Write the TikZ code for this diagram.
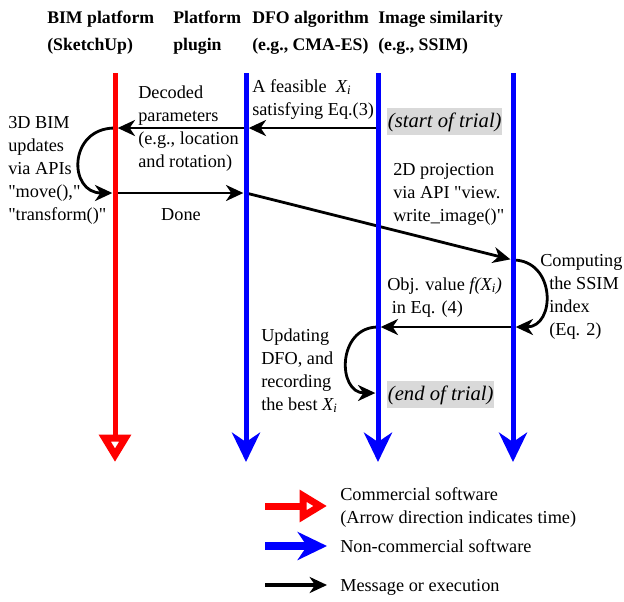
\documentclass[tikz,border=0pt]{standalone}
\usepackage{fontspec}
\setmainfont{Liberation Serif}
\usetikzlibrary{arrows.meta}

\tikzset{
  commercial/.style={draw=red, line width=3.75pt, -{Triangle[open, length=20.5pt, width=23pt, line width=6pt]}},
  noncommercial/.style={draw=blue, line width=3.75pt, -{Stealth[length=22pt, width=21pt, inset=7pt]}},
  msg/.style={draw=black, line width=2.1pt, -{Stealth[length=13pt, width=12pt, inset=4pt]}, shorten >=2pt},
  lbl/.style={anchor=base west, inner sep=0pt, align=left, font=\fontsize{13.7}{17.25}\selectfont},
  ttl/.style={anchor=base west, inner sep=0pt, align=left, font=\fontsize{13.3}{20.25}\selectfont\bfseries},
  trial/.style={anchor=base west, fill=black!15, inner xsep=0.5pt, inner ysep=3pt, font=\fontsize{15.5}{17}\selectfont\itshape},
}

\begin{document}
\begin{tikzpicture}[x=0.75pt,y=0.75pt,yscale=-1,xscale=1]
    \useasboundingbox (0,0) rectangle (624,601);

    % lifelines
    \coordinate (bimTop) at (115,73);  \coordinate (bimEnd) at (115,462);
    \coordinate (plgTop) at (246,73);  \coordinate (plgEnd) at (246,462);
    \coordinate (dfoTop) at (378,73);  \coordinate (dfoEnd) at (378,462);
    \coordinate (simTop) at (513,73);  \coordinate (simEnd) at (513,462);

    % message points
    \coordinate (dfoA) at (378,128);
    \coordinate (plgA) at (246,128);
    \coordinate (bimA) at (115,128);
    \coordinate (bimB) at (115,193);
    \coordinate (plgB) at (246,193);
    \coordinate (simA) at (513,260);
    \coordinate (simB) at (513,327);
    \coordinate (dfoB) at (378,327);
    \coordinate (dfoC) at (378,393);

    %Messages
    \draw[msg] (dfoA) -- (plgA);
    \draw[msg] (plgA) -- (bimA);
    \draw[msg] (bimA) .. controls (68,128) and (68,193) .. (bimB);
    \draw[msg] (bimB) -- (plgB);
    \draw[msg] (plgB) -- (simA);
    \draw[msg] (simA) .. controls (556,260) and (556,327) .. (simB);
    \draw[msg] (simB) -- (dfoB);
    \draw[msg] (dfoB) .. controls (337,327) and (337,393) .. (dfoC);

    %Lifelines
    \draw[commercial] (bimTop) -- (bimEnd);
    \draw[noncommercial] (plgTop) -- (plgEnd);
    \draw[noncommercial] (dfoTop) -- (dfoEnd);
    \draw[noncommercial] (simTop) -- (simEnd);

    % Title Nodes (base = last line)
    \node (bimTtl) at (47,50) [ttl] {BIM platform\\(SketchUp)};
    \node (plgTtl) at (173,50) [ttl] {Platform\\plugin};
    \node (dfoTtl) at (252,50) [ttl] {DFO algorithm\\(e.g., CMA-ES)};
    \node (simTtl) at (378,50) [ttl] {Image similarity\\(e.g., SSIM)};

    % Text Node
    \node (decoded) at (138,167) [lbl] {Decoded\\parameters\\(e.g., location\\and rotation)};
    % Text Node
    \node (feasible) at (252,115) [lbl] {A feasible\ \ \textit{X\textsubscript{i}}\\satisfying Eq.(3)};
    % Text Node
    \node (start) at (387,127) [trial] {(start of trial)};
    % Text Node
    \node (update) at (8,220) [lbl] {3D BIM\\updates\\via APIs\\\textquotedbl move(),\textquotedbl\\\textquotedbl transform()\textquotedbl};
    % Text Node
    \node (done) at (181,220) [lbl, anchor=base] {Done};
    % Text Node
    \node (project) at (393,221) [lbl] {2D projection\\via API \textquotedbl view.\\write\_image()\textquotedbl};
    % Text Node
    \node (compute) at (549,335) [lbl] {\kern-6.75pt Computing\\the SSIM\\index\\(Eq. 2)};
    % Text Node
    \node (objval) at (387,313) [lbl] {Obj. value \textit{f(X\textsubscript{i})}\\\ in Eq. (4)};
    % Text Node
    \node (updating) at (261,410) [lbl] {Updating\\DFO, and\\recording\\the best \textit{X\textsubscript{i}}};
    % Text Node
    \node (finish) at (387,400) [trial] {(end of trial)};

    % Legend
    \coordinate (legCa) at (265,506);  \coordinate (legCb) at (327,506);
    \coordinate (legNa) at (265,546);  \coordinate (legNb) at (327,546);
    \coordinate (legMa) at (265,585);  \coordinate (legMb) at (327,585);
    \draw[commercial, line width=5.25pt] (legCa) -- (legCb);
    \draw[noncommercial, line width=5.5pt] (legNa) -- (legNb);
    \draw[msg, line width=2.6pt, shorten >=0pt] (legMa) -- (legMb);
    \node (legC) at (340,523) [lbl] {Commercial software\\(Arrow direction indicates time)};
    \node (legN) at (340,552) [lbl] {Non-commercial software};
    \node (legM) at (340,591) [lbl] {Message or execution};
\end{tikzpicture}
\end{document}
